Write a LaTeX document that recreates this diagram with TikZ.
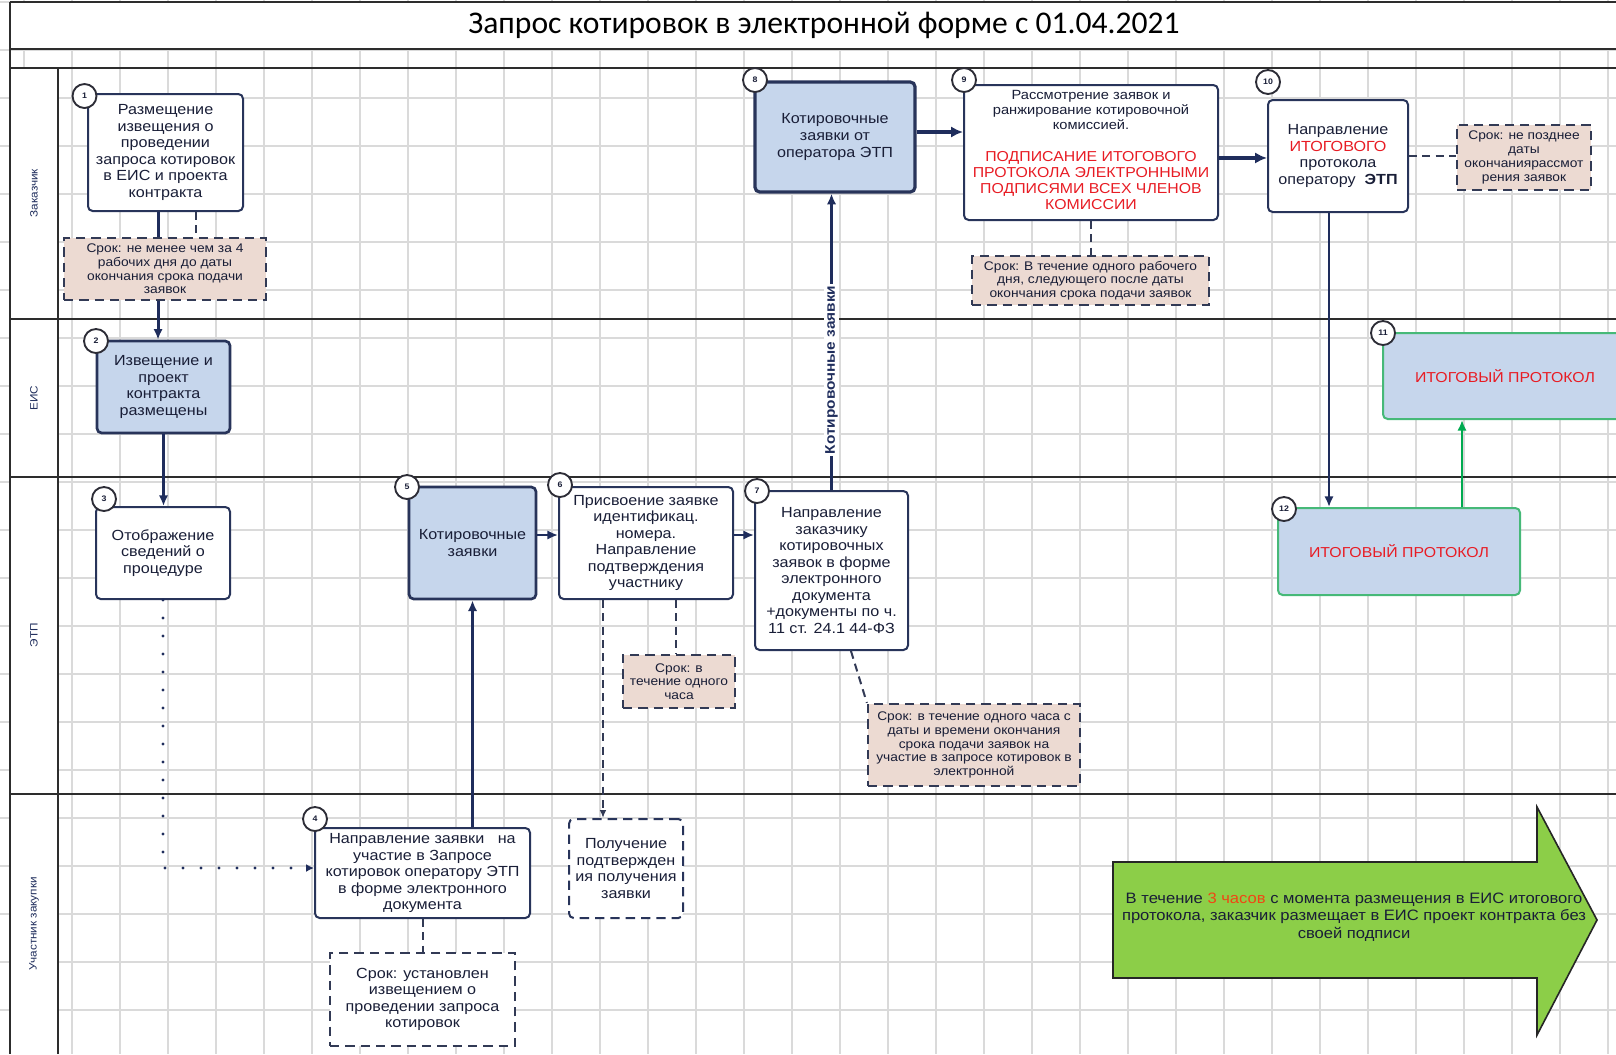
\documentclass[tikz,border=0pt]{standalone}
\usepackage{fontspec}
\setmainfont{Liberation Sans}[FakeStretch=1.1]
\newfontfamily\titlefont{Carlito}
\usetikzlibrary{arrows.meta}

\definecolor{navy}{RGB}{31,45,92}
\definecolor{boxline}{RGB}{40,52,90}
\definecolor{noteline}{RGB}{50,58,85}
\definecolor{numline}{RGB}{45,45,55}
\definecolor{boxblue}{RGB}{198,214,236}
\definecolor{notepink}{RGB}{236,218,210}
\definecolor{txtred}{RGB}{232,28,36}
\definecolor{hourred}{RGB}{240,70,20}
\definecolor{gridgray}{RGB}{218,218,218}
\definecolor{laneline}{RGB}{45,45,45}
\definecolor{boxgreen}{RGB}{70,185,120}
\definecolor{arrowgreen}{RGB}{0,170,80}
\definecolor{bigfill}{RGB}{140,206,72}
\definecolor{txtdark}{RGB}{25,30,55}

\tikzset{
  sz/.style 2 args={minimum width=#1*0.75pt, minimum height=#2*0.75pt},
  boxbase/.style={rectangle, rounded corners=3.5pt, line width=1.5pt, draw=boxline, align=center, text=txtdark, inner sep=1.5pt, font=\fontsize{11}{12.4}\selectfont},
  wbox/.style={boxbase, fill=white},
  bbox/.style={boxbase, fill=boxblue, line width=2pt},
  gbox/.style={boxbase, fill=boxblue, draw=boxgreen, text=txtred, font=\fontsize{10.8}{12}\selectfont},
  dbox/.style={boxbase, fill=white, dash pattern=on 7pt off 4.5pt},
  notebox/.style={rectangle, draw=noteline, line width=1.7pt, dash pattern=on 7pt off 4.5pt, fill=notepink, align=center, text=txtdark, inner sep=1pt, font=\fontsize{9.4}{10.3}\selectfont},
  numc/.style={circle, draw=numline, line width=1.4pt, fill=white, minimum size=18pt, inner sep=0pt, font=\bfseries\fontsize{6}{6}\selectfont, text=txtdark},
  lanelbl/.style={rotate=90, font=\fontsize{8}{8}\selectfont, text=navy},
  arr/.style={draw=navy, line width=2.2pt, -{Latex[length=8pt,width=7pt]}},
  thickarr/.style={draw=navy, line width=3.2pt, -{Latex[length=9pt,width=8.5pt]}},
  garr/.style={draw=arrowgreen, line width=2.2pt, -{Latex[length=8pt,width=7pt]}},
  dconn/.style={draw=noteline, line width=1.5pt, dash pattern=on 6pt off 4pt},
  dotconn/.style={draw=navy, line width=2.4pt, line cap=round, dash pattern=on 0pt off 13.5pt, -{Latex[length=6pt,width=6pt]}},
}

\begin{document}
\begin{tikzpicture}[x=0.75pt,y=-0.75pt]
\useasboundingbox (0,0) rectangle (1616,1054);
\clip (0,0) rectangle (1616,1054);
\fill[white] (0,0) rectangle (1616,1054);

% grid
\foreach \gx in {24,72,...,1608} \draw[gridgray, line width=0.9pt] (\gx,0) -- (\gx,1054);
\foreach \gy in {2,50,...,1050} \draw[gridgray, line width=0.9pt] (0,\gy) -- (1616,\gy);
\fill[white] (10,2) rectangle (1616,49);
\fill[white] (10,68) rectangle (58,1054);

% frame and lanes
\draw[laneline, line width=1.6pt] (10,2) -- (1616,2);
\draw[laneline, line width=1.6pt] (10,2) -- (10,1054);
\draw[laneline, line width=1.6pt] (10,49) -- (1616,49);
\draw[laneline, line width=1.6pt] (10,68) -- (1616,68);
\draw[laneline, line width=1.4pt] (10,319) -- (1616,319);
\draw[laneline, line width=1.4pt] (10,477) -- (1616,477);
\draw[laneline, line width=1.4pt] (10,794) -- (1616,794);
\draw[laneline, line width=1.4pt] (58,68) -- (58,1054);

\node[font=\titlefont\fontsize{23.7}{23.7}\selectfont, text=black] (title) at (824,25) {Запрос котировок в электронной форме с 01.04.2021};

\node[lanelbl] (lab1) at (34,193) {Заказчик};
\node[lanelbl] (lab2) at (34,398) {ЕИС};
\node[lanelbl] (lab3) at (34,635) {ЭТП};
\node[lanelbl] (lab4) at (34,924) {Участник закупки};

% process boxes
\node[wbox, sz={155}{117}] (n1) at (165.5,152.5) {Размещение\\извещения о\\проведении\\запроса котировок\\в ЕИС и проекта\\контракта};
\node[bbox, sz={133}{92}] (n2) at (163.5,387) {Извещение и\\проект\\контракта\\размещены};
\node[wbox, sz={134}{92}] (n3) at (163,553) {Отображение\\сведений о\\процедуре};
\node[wbox, sz={215}{90}] (n4) at (422.5,873) {Направление заявки~~~на\\участие в Запросе\\котировок оператору ЭТП\\в форме электронного\\документа};
\node[bbox, sz={127}{112}] (n5) at (472.5,543) {Котировочные\\заявки};
\node[wbox, sz={174}{112}] (n6) at (646,543) {Присвоение заявке\\идентификац.\\номера.\\Направление\\подтверждения\\участнику};
\node[dbox, sz={114}{99}] (n6r) at (626,868.5) {Получение\\подтвержден\\ия получения\\заявки};
\node[wbox, sz={153}{159}] (n7) at (831.5,570.5) {Направление\\заказчику\\котировочных\\заявок в форме\\электронного\\документа\\+документы по ч.\\11 ст. 24.1 44-ФЗ};
\node[bbox, sz={160}{110}, line width=2.4pt] (n8) at (835,137) {Котировочные\\заявки от\\оператора ЭТП};
\node[wbox, sz={254}{135}] (n9) at (1091,152.5) {};
\node[align=center, text=txtdark, font=\fontsize{10}{11.2}\selectfont] (n9a) at (1091,110) {Рассмотрение заявок и\\ранжирование котировочной\\комиссией.};
\node[align=center, text=txtred, font=\fontsize{10.8}{11.8}\selectfont] (n9b) at (1091,180.5) {ПОДПИСАНИЕ ИТОГОВОГО\\ПРОТОКОЛА ЭЛЕКТРОННЫМИ\\ПОДПИСЯМИ ВСЕХ ЧЛЕНОВ\\КОМИССИИ};
\node[wbox, sz={140}{112}] (n10) at (1338,156) {Направление\\{\color{txtred}ИТОГОВОГО}\\протокола\\оператору~~\textbf{ЭТП}};
\node[gbox, sz={244}{86}] (n11) at (1505,376) {ИТОГОВЫЙ ПРОТОКОЛ};
\node[gbox, sz={242}{87}] (n12) at (1399,551.5) {ИТОГОВЫЙ ПРОТОКОЛ};

% connector 1 -> 2 passes behind note 1
\draw[arr] ([xshift=-5.6pt]n1.south) -- ([xshift=-5.6pt]n1.south |- n2.north);

% notes
\node[notebox, sz={202}{62}] (note1) at (165,269) {Срок: не менее чем за 4\\рабочих дня до даты\\окончания срока подачи\\заявок};
\node[notebox, sz={185}{93}, fill=white, font=\fontsize{11}{12.2}\selectfont] (note4) at (422.5,999.5) {Срок: установлен\\извещением о\\проведении запроса\\котировок};
\node[notebox, sz={112}{53}] (note6) at (679,681.5) {Срок: в\\течение одного\\часа};
\node[notebox, sz={212}{82}] (note7) at (974,745) {Срок: в течение одного часа с\\даты и времени окончания\\срока подачи заявок на\\участие в запросе котировок в\\электронной};
\node[notebox, sz={237}{49}] (note9) at (1090.5,280.5) {Срок: В течение одного рабочего\\дня, следующего после даты\\окончания срока подачи заявок};
\node[notebox, sz={134}{65}] (note10) at (1524,157.5) {Срок: не позднее\\даты\\окончаниярассмот\\рения заявок};

% connectors
\draw[dconn] ([xshift=22.9pt]n1.south) -- ([xshift=22.9pt]n1.south |- note1.north);
\draw[arr] (n2.south) -- (n2.south |- n3.north);
\draw[dotconn] (n3.south) |- ([yshift=3.75pt]n4.west);
\draw[arr] (n5.south |- n4.north) -- (n5.south);
\draw[dconn] (n4.south) -- (note4.north);
\draw[arr] ([yshift=6pt]n5.east) -- ([yshift=6pt]n5.east -| n6.west);
\draw[dconn, -{Latex[length=6pt,width=5pt]}] ([xshift=-32.25pt]n6.south) -- ([xshift=-32.25pt]n6.south |- n6r.north);
\draw[dconn] ([xshift=22.5pt]n6.south) -- ([xshift=22.5pt]n6.south |- note6.north);
\draw[arr] ([yshift=6pt]n6.east) -- ([yshift=6pt]n6.east -| n7.west);
\draw[dconn] ([xshift=14.6pt]n7.south) -- (note7.north west);
\draw[arr] (n7.north) -- node[pos=0.405, rotate=90, fill=white, inner sep=1pt, text=navy, font=\bfseries\fontsize{10.5}{10.5}\selectfont] (kzlbl) {Котировочные заявки} (n7.north |- n8.south);
\draw[thickarr] ([yshift=3.75pt]n8.east) -- ([yshift=3.75pt]n8.east -| n9.west);
\draw[dconn] (n9.south) -- (n9.south |- note9.north);
\draw[thickarr] ([yshift=-4.1pt]n9.east) -- ([yshift=-4.1pt]n9.east -| n10.west);
\draw[dconn] (n10.east) -- (n10.east -| note10.west);
\draw[arr] ([xshift=-6.75pt]n10.south) -- ([xshift=-6.75pt]n10.south |- n12.north);
\draw[garr] ([xshift=47.25pt]n12.north) -- ([xshift=47.25pt]n12.north |- n11.south);

% number circles
\node[numc] (k1) at (84.5,96) {1};
\node[numc] (k2) at (96,341) {2};
\node[numc] (k3) at (104,499) {3};
\node[numc] (k4) at (315,819) {4};
\node[numc] (k5) at (407,487) {5};
\node[numc] (k6) at (560,485) {6};
\node[numc] (k7) at (757,491) {7};
\node[numc] (k8) at (755,80) {8};
\node[numc] (k9) at (964,80) {9};
\node[numc] (k10) at (1268,82) {10};
\node[numc] (k11) at (1383,333) {11};
\node[numc] (k12) at (1284,509) {12};

% big green arrow
\draw[draw=black!85, line width=1.2pt, fill=bigfill] (1113,862) -- (1537,862) -- (1537,807) -- (1597,920) -- (1537,1035) -- (1537,978) -- (1113,978) -- cycle;
\node[align=center, text=txtdark, font=\fontsize{11.3}{13}\selectfont] (bigtxt) at (1354,917) {В течение {\color{hourred}3 часов} с момента размещения в ЕИС итогового\\протокола, заказчик размещает в ЕИС проект контракта без\\своей подписи};
\end{tikzpicture}
\end{document}
